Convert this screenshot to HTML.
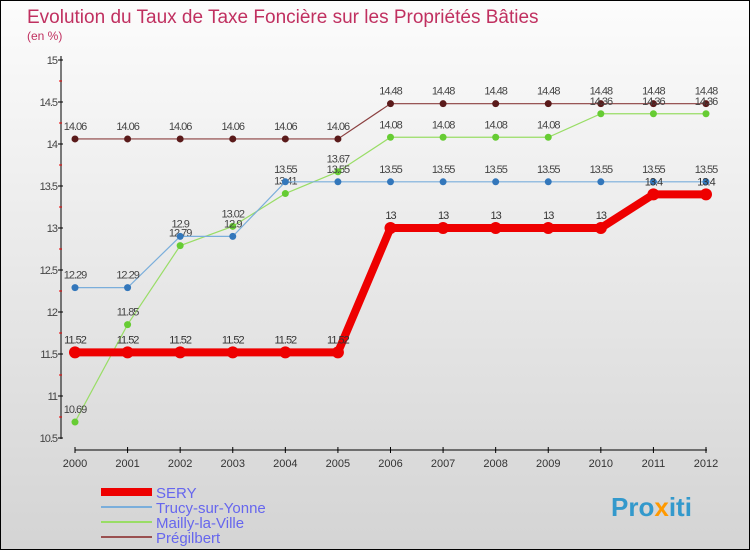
<!DOCTYPE html>
<html><head><meta charset="utf-8">
<style>
body{margin:0;width:750px;height:550px;overflow:hidden;font-family:"Liberation Sans",sans-serif}
#wrap{position:relative;width:748px;height:548px;border:1px solid #000;background:linear-gradient(#fcfcfc,#d4d4d4)}
</style></head><body>
<div id="wrap">
<svg id="chart" width="748" height="548" xmlns="http://www.w3.org/2000/svg">
<text x="26" y="22" font-size="19" fill="#c03060">Evolution du Taux de Taxe Foncière sur les Propriétés Bâties</text>
<text x="26" y="39" font-size="12" fill="#c03060">(en %)</text>
<text x="610" y="515" font-size="26" font-weight="bold" fill="#3399cc">Pro<tspan fill="#ff9900">x</tspan>iti</text>
</svg>
</div>
<script>
const years=[2000,2001,2002,2003,2004,2005,2006,2007,2008,2009,2010,2011,2012];
const yTicks=[10.5,11,11.5,12,12.5,13,13.5,14,14.5,15];
const sery=[11.52,11.52,11.52,11.52,11.52,11.52,13,13,13,13,13,13.4,13.4];
const trucy=[12.29,12.29,12.9,12.9,13.55,13.55,13.55,13.55,13.55,13.55,13.55,13.55,13.55];
const mailly=[10.69,11.85,12.79,13.02,13.41,13.67,14.08,14.08,14.08,14.08,14.36,14.36,14.36];
const pregilbert=[14.06,14.06,14.06,14.06,14.06,14.06,14.48,14.48,14.48,14.48,14.48,14.48,14.48];
const NS="http://www.w3.org/2000/svg";
const svg=document.getElementById('chart');
const xS=i=>74+i*(631/12);
const yS=v=>59+(15-v)*84;
function mk(t,a){const e=document.createElementNS(NS,t);for(const k in a)e.setAttribute(k,a[k]);svg.appendChild(e);return e;}
let ax=mk('line',{x1:60,y1:55,x2:60,y2:438,stroke:'#000'});


let bx=mk('line',{x1:74,y1:449,x2:706,y2:449,stroke:'#000'});


yTicks.forEach(v=>{
 mk('line',{x1:57,y1:yS(v),x2:62,y2:yS(v),stroke:'#000'});
 if(v<15) mk('line',{x1:58,y1:yS(v+0.25),x2:61,y2:yS(v+0.25),stroke:'#e00'});
 const t=mk('text',{x:56,y:yS(v)+4,'font-size':11,fill:'#444','text-anchor':'end','letter-spacing':'-1'});
 t.textContent=v;
 
 
});
years.forEach((yr,i)=>{
 mk('line',{x1:xS(i),y1:446,x2:xS(i),y2:452,stroke:'#000'});
 const t=mk('text',{x:xS(i),y:466,'font-size':11,fill:'#333','text-anchor':'middle'});
 t.textContent=yr;
 
 
});
function series(data,color,dot,w,r,name,labelColor){
 const g=mk('g',{});
 
 
 const p=document.createElementNS(NS,'polyline');
 p.setAttribute('points',data.map((v,i)=>xS(i)+','+yS(v)).join(' '));
 p.setAttribute('fill','none');p.setAttribute('stroke',color);p.setAttribute('stroke-width',w);
 g.appendChild(p);
 data.forEach((v,i)=>{
  const c=document.createElementNS(NS,'circle');
  c.setAttribute('cx',xS(i));c.setAttribute('cy',yS(v));c.setAttribute('r',r);c.setAttribute('fill',dot);
  
  
  g.appendChild(c);
  const t=document.createElementNS(NS,'text');
  t.setAttribute('x',xS(i));t.setAttribute('y',yS(v)-9);t.setAttribute('font-size',11);
  t.setAttribute('fill',labelColor);t.setAttribute('text-anchor','middle');t.setAttribute('letter-spacing','-1');
  t.textContent=v;
  
  
  g.appendChild(t);
 });
}
series(pregilbert,'#8b4040','#5a1a1a',1.2,3.5,'pregilbert','#444');
series(mailly,'#99dd66','#66cc33',1.2,3.5,'mailly','#444');
series(trucy,'#7aaedb','#3377bb',1.2,3.5,'trucy','#444');
series(sery,'#ee0000','#ee0000',8,6,'sery','#333');
const legend=[['SERY','#ee0000',8],['Trucy-sur-Yonne','#7aaedb',2],['Mailly-la-Ville','#99dd66',2],['Prégilbert','#9a5050',2]];
legend.forEach((l,i)=>{
 const y=491+i*15;
 const ln=mk('line',{x1:100,y1:y,x2:151,y2:y,stroke:l[1],'stroke-width':l[2]});
 
 
 const t=mk('text',{x:155,y:y+6,'font-size':15,fill:'#6666ee'});
 t.textContent=l[0];
 
 
});
</script>
</body></html>
